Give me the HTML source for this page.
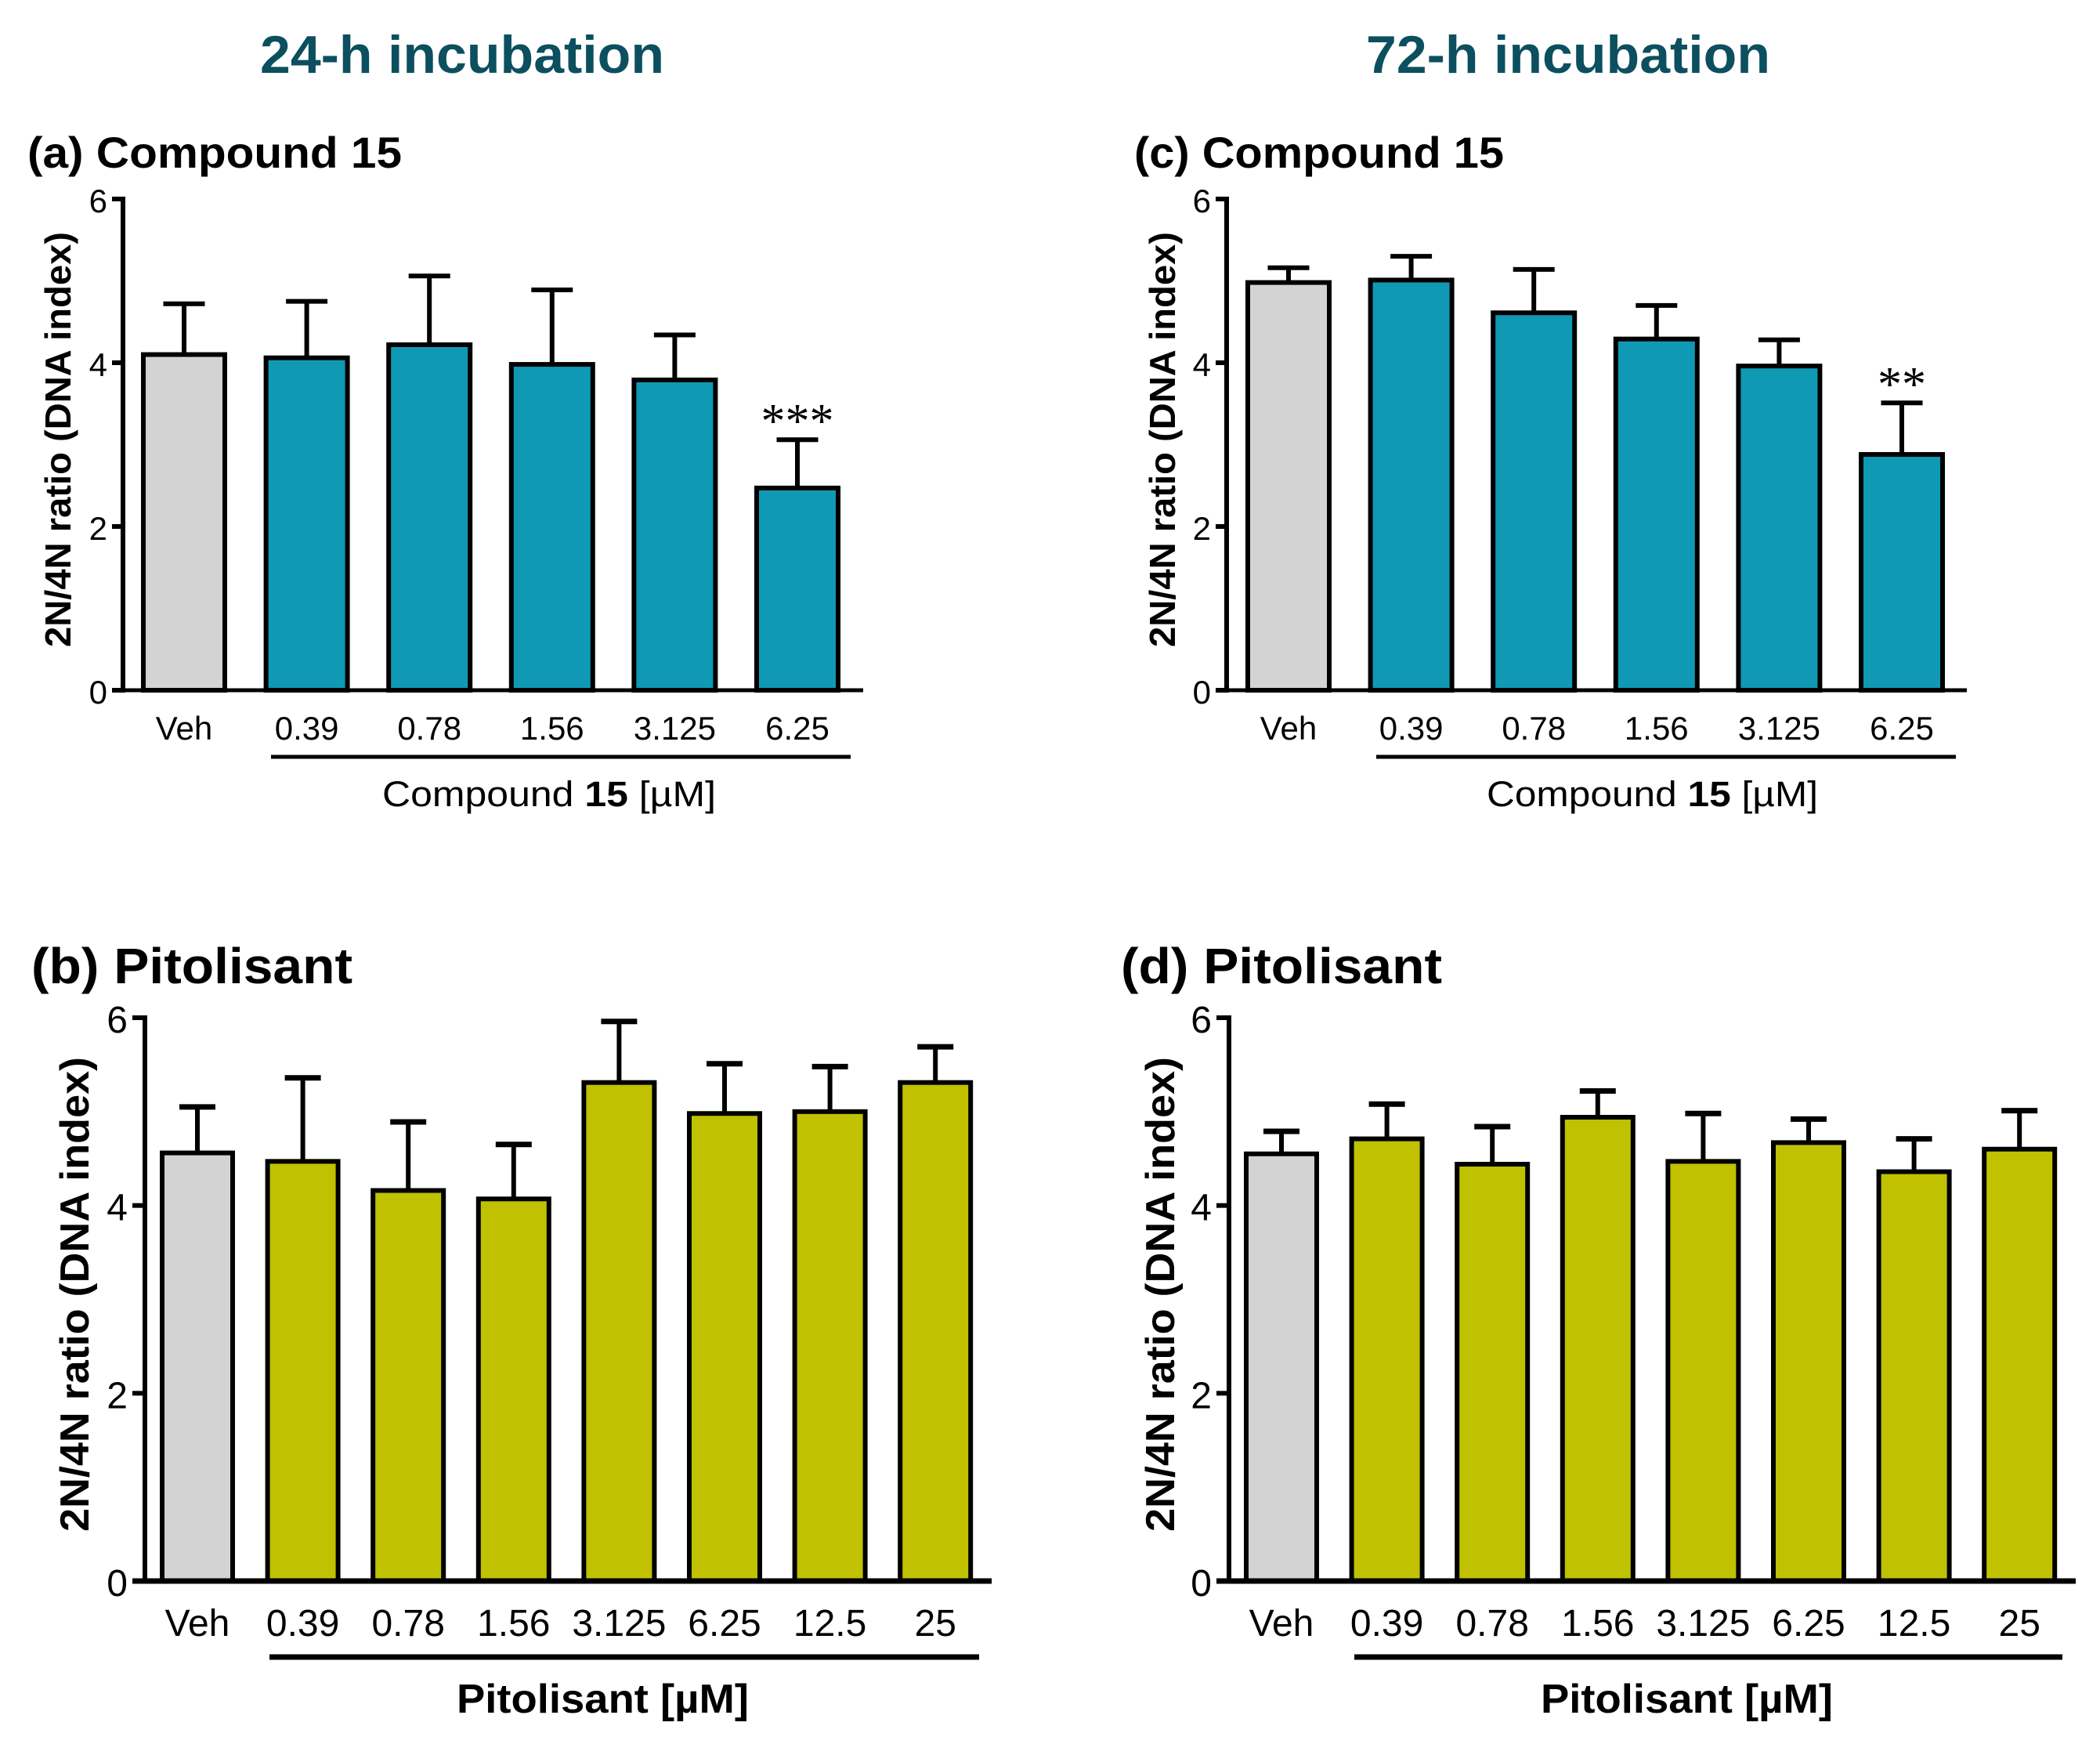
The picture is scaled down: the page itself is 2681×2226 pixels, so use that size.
<!DOCTYPE html>
<html lang="en">
<head>
<meta charset="utf-8">
<title>2N/4N ratio at 24-h and 72-h incubation</title>
<style>
html,body{margin:0;padding:0;background:#fff;}
svg{display:block;}
text{font-family:"Liberation Sans",sans-serif;fill:#000;}
.b{font-weight:bold;}
.head{font-weight:bold;font-size:68px;fill:#0c4f5f;}
</style>
</head>
<body>
<svg id="figure" width="2681" height="2226" viewBox="0 0 2681 2226" xmlns="http://www.w3.org/2000/svg">
<rect x="0" y="0" width="2681" height="2226" fill="#ffffff"/>
<text class="head" x="332" y="93" textLength="516" lengthAdjust="spacingAndGlyphs">24-h incubation</text>
<text class="head" x="1744" y="93" textLength="516" lengthAdjust="spacingAndGlyphs">72-h incubation</text>
</svg>
<script>
const yTicks = [0, 2, 4, 6];
const categoriesCompound = ["Veh", "0.39", "0.78", "1.56", "3.125", "6.25"];
const categoriesPitolisant = ["Veh", "0.39", "0.78", "1.56", "3.125", "6.25", "12.5", "25"];

const meansA = [4.10, 4.06, 4.22, 3.98, 3.79, 2.47];
const upperA = [4.72, 4.75, 5.06, 4.89, 4.34, 3.06];
const meansC = [4.98, 5.01, 4.61, 4.29, 3.96, 2.88];
const upperC = [5.16, 5.30, 5.14, 4.70, 4.28, 3.51];
const meansB = [4.56, 4.47, 4.16, 4.07, 5.31, 4.98, 5.00, 5.31];
const upperB = [5.05, 5.36, 4.89, 4.65, 5.96, 5.51, 5.48, 5.69];
const meansD = [4.55, 4.71, 4.44, 4.94, 4.47, 4.67, 4.36, 4.60];
const upperD = [4.79, 5.08, 4.84, 5.22, 4.98, 4.92, 4.71, 5.01];
const starsA = ["", "", "", "", "", "***"];
const starsC = ["", "", "", "", "", "**"];
const starsNone = ["", "", "", "", "", "", "", ""];

const svg = document.getElementById('figure');
const NS = 'http://www.w3.org/2000/svg';

function node(tag, parent) {
  const el = document.createElementNS(NS, tag);
  parent.appendChild(el);
  return el;
}
function line(el, x1, y1, x2, y2, w) {
  el.setAttribute('x1', x1);
  el.setAttribute('y1', y1);
  el.setAttribute('x2', x2);
  el.setAttribute('y2', y2);
  el.setAttribute('stroke', '#000');
  el.setAttribute('stroke-width', w);
}
function label(el, x, y, size, anchor, str) {
  el.setAttribute('x', x);
  el.setAttribute('y', y);
  el.setAttribute('font-size', size);
  el.setAttribute('text-anchor', anchor);
  el.textContent = str;
}

function drawPanel(p) {
  const g = node('g', svg);
  
  

  const yScale = v => p.y0 + (p.y6 - p.y0) * v / 6;
  const xScale = i => p.x0 + p.step * i;

  // bars and error bars
  p.categories.forEach((c, i) => {
    const x = xScale(i);
    const top = yScale(p.means[i]);
    const up = yScale(p.upper[i]);

    const stem = node('line', g);
    
    
    line(stem, x, top, x, up, 6);

    const cap = node('line', g);
    
    
    line(cap, x - p.cap / 2, up, x + p.cap / 2, up, p.capW);

    const bar = node('rect', g);
    
    
    bar.setAttribute('x', x - p.barW / 2);
    bar.setAttribute('y', top);
    bar.setAttribute('width', p.barW);
    bar.setAttribute('height', p.y0 - top);
    bar.setAttribute('fill', i === 0 ? '#d3d3d3' : p.color);
    bar.setAttribute('stroke', '#000');
    bar.setAttribute('stroke-width', 6);

    const tick = node('text', g);
    
    
    label(tick, x, p.tickBase, p.tickSize, 'middle', c);

    if (p.stars[i]) {
      const s = node('text', g);
      
      
      label(s, x, up - p.starGap, 62, 'middle', p.stars[i]);
      s.setAttribute('style', 'font-family:"Liberation Serif",serif');
    }
  });

  // axes
  const yAxis = node('line', g);
  
  
  line(yAxis, p.axisX, p.y6 - 3, p.axisX, p.y0 + 3, 6);

  const xAxis = node('line', g);
  
  
  line(xAxis, p.axisX - p.tickLen, p.y0, p.axisEnd, p.y0, p.xAxisW);

  yTicks.forEach(t => {
    const y = yScale(t);
    const m = node('line', g);
    
    
    line(m, p.axisX - p.tickLen, y, p.axisX, y, 6);

    const l = node('text', g);
    
    
    label(l, p.axisX - p.tickLen - 6, y + p.yLabelDy, p.tickSize, 'end', String(t));
  });

  // y axis title
  const yt = node('text', g);
  
  
  label(yt, 0, 0, p.yTitleSize, 'start', '2N/4N ratio (DNA index)');
  yt.setAttribute('class', 'b');
  yt.setAttribute('transform', 'translate(' + p.yTitleX + ',' + p.yTitleBottom + ') rotate(-90)');
  yt.setAttribute('textLength', p.yTitleLen);
  yt.setAttribute('lengthAdjust', 'spacingAndGlyphs');

  // panel title
  const pt = node('text', g);
  
  
  label(pt, p.titleX, p.titleY, p.titleSize, 'start', p.title);
  pt.setAttribute('class', 'b');
  pt.setAttribute('textLength', p.titleLen);
  pt.setAttribute('lengthAdjust', 'spacingAndGlyphs');

  // concentration bracket
  const br = node('line', g);
  
  
  line(br, p.brX1, p.brY, p.brX2, p.brY, p.brW);

  // x axis group label
  const gl = node('text', g);
  
  
  gl.setAttribute('x', p.groupX);
  gl.setAttribute('y', p.groupY);
  gl.setAttribute('font-size', p.groupSize);
  gl.setAttribute('textLength', p.groupLen);
  gl.setAttribute('lengthAdjust', 'spacingAndGlyphs');
  if (p.groupBold) {
    gl.setAttribute('class', 'b');
    gl.textContent = 'Pitolisant [\u00b5M]';
  } else {
    gl.appendChild(document.createTextNode('Compound '));
    const bold = node('tspan', gl);
    bold.setAttribute('class', 'b');
    bold.textContent = '15';
    gl.appendChild(document.createTextNode(' [\u00b5M]'));
  }
}

const compoundStyle = {
  categories: categoriesCompound, color: '#1099b5', y6: 254, y0: 881, step: 156.6,
  barW: 104, cap: 53, capW: 6, tickLen: 14, xAxisW: 5, tickBase: 944, tickSize: 42, yLabelDy: 17,
  yTitleSize: 46, yTitleLen: 530, yTitleBottom: 826, titleY: 214, titleSize: 56, titleLen: 478,
  brY: 966, brW: 5, groupY: 1029, groupSize: 45, groupLen: 426, groupBold: false, starGap: 3
};
const pitolisantStyle = {
  categories: categoriesPitolisant, color: '#c0c100', y6: 1299, y0: 2018, step: 134.6,
  barW: 90, cap: 46, capW: 7, tickLen: 16, xAxisW: 7, tickBase: 2088, tickSize: 48, yLabelDy: 19,
  yTitleSize: 52, yTitleLen: 606, yTitleBottom: 1955, titleY: 1255, titleSize: 64, titleLen: 410,
  brY: 2115, brW: 7, groupY: 2186, groupSize: 52, groupLen: 373, groupBold: true, starGap: 3, stars: starsNone
};

drawPanel(Object.assign({}, compoundStyle, {
  name: 'panel-a', title: '(a) Compound 15', means: meansA, upper: upperA, stars: starsA,
  x0: 235, axisX: 157, axisEnd: 1102, yTitleX: 90, titleX: 35,
  brX1: 346, brX2: 1086, groupX: 488
}));
drawPanel(Object.assign({}, compoundStyle, {
  name: 'panel-c', title: '(c) Compound 15', means: meansC, upper: upperC, stars: starsC,
  x0: 1645, axisX: 1566, axisEnd: 2511, yTitleX: 1500, titleX: 1448, titleLen: 472,
  brX1: 1757, brX2: 2497, groupX: 1898, groupLen: 423
}));
drawPanel(Object.assign({}, pitolisantStyle, {
  name: 'panel-b', title: '(b) Pitolisant', means: meansB, upper: upperB,
  x0: 252, axisX: 185, axisEnd: 1266, yTitleX: 113, titleX: 40,
  brX1: 344, brX2: 1250, groupX: 583
}));
drawPanel(Object.assign({}, pitolisantStyle, {
  name: 'panel-d', title: '(d) Pitolisant', means: meansD, upper: upperD,
  x0: 1636, axisX: 1569, axisEnd: 2650, yTitleX: 1499, titleX: 1431,
  brX1: 1729, brX2: 2633, groupX: 1967
}));
</script>
</body>
</html>
